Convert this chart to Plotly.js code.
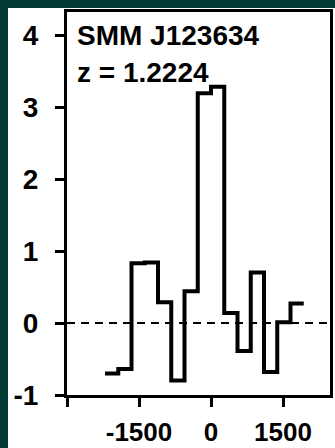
<!DOCTYPE html>
<html>
<head>
<meta charset="utf-8">
<script src="https://cdn.plot.ly/plotly-3.0.1.min.js"></script>
<style>
html,body{margin:0;padding:0;width:335px;height:448px;background:#023a36;overflow:hidden;}
#chart{position:absolute;left:8px;top:8px;width:327px;height:440px;background:#fff;}
</style>
</head>
<body>
<div id="chart"></div>
<script>
// velocity bin centres (km/s) and flux density values
var binCenters = [-2070, -1794, -1518, -1242, -966, -690, -414, -138, 138, 414, 690, 966, 1242, 1518, 1794];
var fluxValues = [-0.70, -0.64, 0.83, 0.84, 0.29, -0.80, 0.44, 3.19, 3.28, 0.14, -0.39, 0.70, -0.68, 0.01, 0.27];
var binWidth = 276;
var xTickVals = [-3000, -1500, 0, 1500];
var xTickText = ['', '-1500', '0', '1500'];
var yTickVals = [-1, 0, 1, 2, 3, 4];
var yTickText = ['-1', '0', '1', '2', '3', '4'];
var sourceName = 'SMM J123634';
var redshiftLabel = 'z = 1.2224';

// step edges
var xs = [], ys = [];
for (var i = 0; i < binCenters.length; i++) {
  xs.push(binCenters[i] - binWidth / 2);
  ys.push(fluxValues[i]);
}
xs.push(binCenters[binCenters.length - 1] + binWidth / 2);
ys.push(fluxValues[fluxValues.length - 1]);

var fontFam = 'Liberation Sans, Arial, Helvetica, sans-serif';
var trace = {
  x: xs, y: ys, type: 'scatter', mode: 'lines',
  line: {shape: 'hv', color: '#000', width: 4},
  hoverinfo: 'skip'
};

var layout = {
  width: 327, height: 440,
  margin: {l: 59, r: 5, t: 4, b: 53},
  paper_bgcolor: '#ffffff', plot_bgcolor: '#ffffff',
  showlegend: false,
  xaxis: {
    range: [-3000, 2479], showgrid: false, zeroline: false,
    showline: true, linewidth: 3, linecolor: '#000', mirror: true,
    ticks: 'outside', ticklen: 9, tickwidth: 3, tickcolor: '#000',
    tickvals: xTickVals, ticktext: xTickText,
    tickfont: {family: fontFam, size: 26, color: '#000', weight: 'bold'},
    ticklabelstandoff: 3
  },
  yaxis: {
    range: [-1, 4.32], showgrid: false, zeroline: false,
    showline: true, linewidth: 3, linecolor: '#000', mirror: true,
    ticks: 'outside', ticklen: 9, tickwidth: 3, tickcolor: '#000',
    tickvals: yTickVals, ticktext: yTickText,
    tickfont: {family: fontFam, size: 28, color: '#000', weight: 'bold'},
    ticklabelstandoff: 11
  },
  shapes: [{
    type: 'line', xref: 'paper', x0: 0, x1: 1, yref: 'y', y0: 0, y1: 0,
    line: {color: '#000', width: 2, dash: '8px,6px'}, layer: 'below'
  }],
  annotations: [
    {text: '<b>' + sourceName + '</b>', xref: 'paper', x: 0.03, xanchor: 'left',
     yref: 'y', y: 4.0, yanchor: 'middle', showarrow: false,
     font: {family: fontFam, size: 28, color: '#000'}},
    {text: '<b>' + redshiftLabel + '</b>', xref: 'paper', x: 0.03, xanchor: 'left',
     yref: 'y', y: 3.48, yanchor: 'middle', showarrow: false,
     font: {family: fontFam, size: 28, color: '#000'}}
  ]
};

Plotly.newPlot('chart', [trace], layout, {staticPlot: true, displayModeBar: false});
</script>
</body>
</html>
